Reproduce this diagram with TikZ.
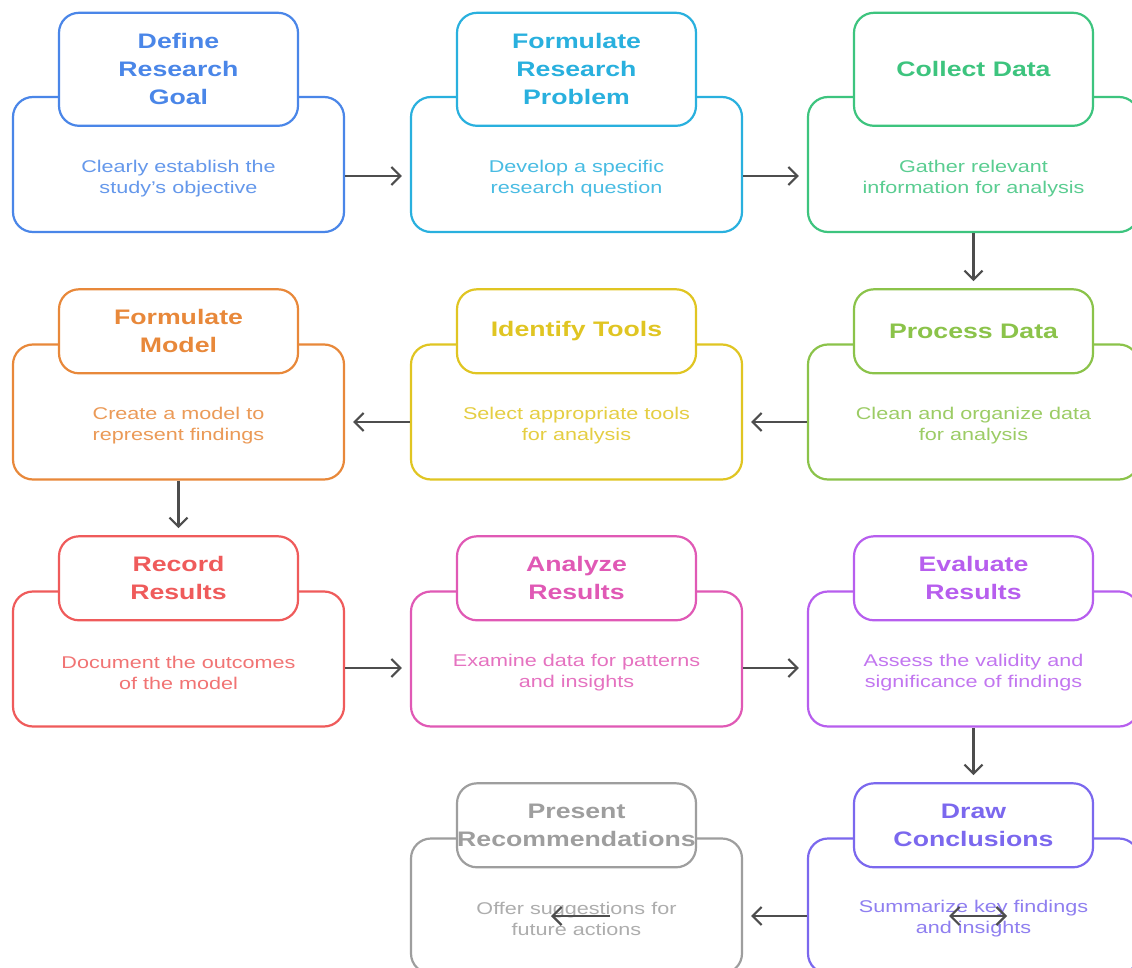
\documentclass[tikz,border=0pt]{standalone}
\usepackage{fontspec}
\setmainfont[FakeStretch=1.27]{Liberation Sans}
\usetikzlibrary{arrows.meta,positioning}
\definecolor{cblue}{HTML}{4A86E8}
\definecolor{ccyan}{HTML}{29B0DE}
\definecolor{cgreen}{HTML}{3DC47E}
\definecolor{clime}{HTML}{8BC34A}
\definecolor{cyell}{HTML}{E0C522}
\definecolor{corng}{HTML}{E8883A}
\definecolor{cred}{HTML}{EF5B5B}
\definecolor{cpink}{HTML}{E059B5}
\definecolor{cpurp}{HTML}{B75EEE}
\definecolor{cviol}{HTML}{7B68EE}
\definecolor{cgray}{HTML}{9E9E9E}
\definecolor{arrowgray}{HTML}{4D4D4D}
\tikzset{
  >={Straight Barb[length=9pt,width=18pt]},
  card/.style={draw=#1,line width=2.2pt,rounded corners=20pt,minimum width=331pt,minimum height=135pt,fill=white},
  head/.style={draw=#1,line width=2.2pt,rounded corners=20pt,minimum width=239pt,minimum height=84pt,inner sep=0pt,fill=white,text=#1,font=\fontsize{21}{28}\selectfont\bfseries,align=center,anchor=south},
  desc/.style={text=#1!85,font=\fontsize{17}{21}\selectfont,align=center},
  flow/.style={->,draw=arrowgray,line width=2.2pt,shorten >=8pt},
}

\begin{document}
\begin{tikzpicture}[x=1pt,y=-1pt]
\useasboundingbox[fill=white] (0,0) rectangle (1132,968);
\node[card=cblue] (goal) at (178.5,164.5) {};
\node[head=cblue,minimum height=113pt] (goalH) at ([yshift=-31pt]goal.north) {Define\\Research\\Goal};
\node[desc=cblue] (goalD) at (178.5,179) {Clearly establish the\\study's objective};
\node[card=ccyan] (problem) at (576.5,164.5) {};
\node[head=ccyan,minimum height=113pt] (problemH) at ([yshift=-31pt]problem.north) {Formulate\\Research\\Problem};
\node[desc=ccyan] (problemD) at (576.5,179) {Develop a specific\\research question};
\node[card=cgreen] (collect) at (973.5,164.5) {};
\node[head=cgreen,minimum height=113pt] (collectH) at ([yshift=-31pt]collect.north) {Collect Data};
\node[desc=cgreen] (collectD) at (973.5,179) {Gather relevant\\information for analysis};

\node[card=clime] (process) at (973.5,412) {};
\node[head=clime] (processH) at ([yshift=-31pt]process.north) {Process Data};
\node[desc=clime] (processD) at (973.5,425.5) {Clean and organize data\\for analysis};
\node[card=cyell] (tools) at (576.5,412) {};
\node[head=cyell] (toolsH) at ([yshift=-31pt]tools.north) {Identify Tools};
\node[desc=cyell] (toolsD) at (576.5,425.5) {Select appropriate tools\\for analysis};
\node[card=corng] (model) at (178.5,412) {};
\node[head=corng] (modelH) at ([yshift=-31pt]model.north) {Formulate\\Model};
\node[desc=corng] (modelD) at (178.5,425.5) {Create a model to\\represent findings};

\node[card=cred] (record) at (178.5,659) {};
\node[head=cred] (recordH) at ([yshift=-31pt]record.north) {Record\\Results};
\node[desc=cred] (recordD) at (178.5,673) {Document the outcomes\\of the model};
\node[card=cpink] (analyze) at (576.5,659) {};
\node[head=cpink] (analyzeH) at ([yshift=-31pt]analyze.north) {Analyze\\Results};
\node[desc=cpink] (analyzeD) at (576.5,673) {Examine data for patterns\\and insights};
\node[card=cpurp] (evaluate) at (973.5,659) {};
\node[head=cpurp] (evaluateH) at ([yshift=-31pt]evaluate.north) {Evaluate\\Results};
\node[desc=cpurp] (evaluateD) at (973.5,673) {Assess the validity and\\significance of findings};

\node[card=cviol] (conclude) at (973.5,906) {};
\node[head=cviol] (concludeH) at ([yshift=-31pt]conclude.north) {Draw\\Conclusions};
\node[desc=cviol] (concludeD) at (973.5,919) {Summarize key findings\\and insights};
\node[card=cgray] (present) at (576.5,906) {};
\node[head=cgray] (presentH) at ([yshift=-31pt]present.north) {Present\\Recommendations};
\node[desc=cgray] (presentD) at (576.5,919) {Offer suggestions for\\future actions};

\draw[flow] (goal.east |- 0,176) -- (problem.west |- 0,176);
\draw[flow] (problem.east |- 0,176) -- (collect.west |- 0,176);
\draw[flow,shorten >=7pt] (collect.south) -- (processH.north);
\draw[flow] (process.west |- 0,422) -- (tools.east |- 0,422);
\draw[flow] (tools.west |- 0,422) -- (model.east |- 0,422);
\draw[flow,shorten >=7pt] (model.south) -- (recordH.north);
\draw[flow] (record.east |- 0,668) -- (analyze.west |- 0,668);
\draw[flow] (analyze.east |- 0,668) -- (evaluate.west |- 0,668);
\draw[flow,shorten >=7pt] (evaluate.south) -- (concludeH.north);
\draw[flow] (conclude.west |- 0,916) -- (present.east |- 0,916);
\coordinate (strayA) at (610,916);
\coordinate (strayB) at (551,916);
\coordinate (strayC) at (949,916);
\coordinate (strayD) at (1007,916);
\draw[flow,shorten >=0pt] (strayA) -- (strayB);
\draw[flow,<->,shorten >=0pt] (strayC) -- (strayD);
\end{tikzpicture}
\end{document}
